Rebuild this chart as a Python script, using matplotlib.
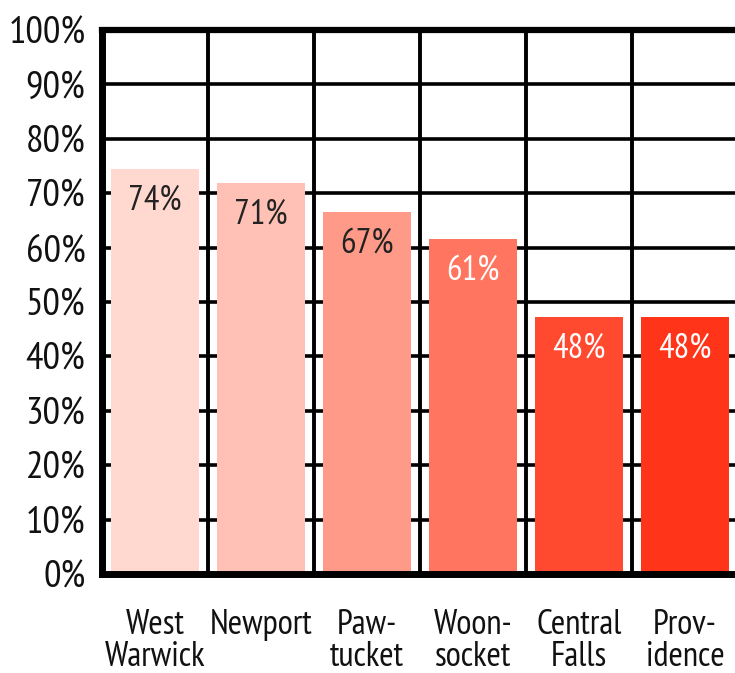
import matplotlib
matplotlib.use("Agg")
import matplotlib.pyplot as plt
from matplotlib.ticker import FixedLocator

categories = ["West\nWarwick", "Newport", "Paw-\ntucket", "Woon-\nsocket", "Central\nFalls", "Prov-\nidence"]
values = [74.4, 71.9, 66.5, 61.6, 47.3, 47.3]
value_labels = ["74%", "71%", "67%", "61%", "48%", "48%"]
colors = ["#FFD8D0", "#FFC0B5", "#FF9A88", "#FF7560", "#FF4A30", "#FF3418"]
label_colors = ["#222222", "#222222", "#222222", "white", "white", "white"]
ytick_values = list(range(0, 101, 10))
ytick_labels = [f"{v}%" for v in ytick_values]

FONT = ["PT Sans Narrow", "DejaVu Sans"]
plt.rcParams['font.family'] = FONT

W, H = 735, 673
fig = plt.figure(figsize=(W / 100, H / 100), dpi=100)
left, right = 102 / W, 1.0
bottom, top = (H - 574) / H, (H - 30) / H
ax = fig.add_axes([left, bottom, right - left, top - bottom])

x = list(range(len(categories)))
ax.bar(x, values, width=0.83, color=colors, zorder=3)

ax.set_xlim(-0.5, 5.47)
ax.set_ylim(0, 100)

# horizontal grid
for v in ytick_values[1:-1]:
    ax.axhline(v, color="black", lw=2.6, zorder=1)
ax.axhline(100, color="black", lw=4.5, zorder=4, clip_on=False)
# vertical separators
for b in [0.5, 1.5, 2.5, 3.5, 4.5]:
    ax.axvline(b, color="black", lw=2.8, zorder=1)

for s in ["top", "right"]:
    ax.spines[s].set_visible(False)
for s in ["left", "bottom"]:
    ax.spines[s].set_linewidth(5)
    ax.spines[s].set_zorder(5)

ax.yaxis.set_major_locator(FixedLocator(ytick_values))
ax.set_yticklabels(ytick_labels, fontsize=28, color="#111111")
ax.set_xticks(x)
ax.set_xticklabels(categories, fontsize=25, color="#111111", linespacing=1.03)
ax.tick_params(axis="both", length=0)
ax.tick_params(axis="y", pad=12)
ax.tick_params(axis="x", pad=25)

for xi, v, lab, c in zip(x, values, value_labels, label_colors):
    ax.text(xi, v - 5.8, lab, ha="center", va="center", fontsize=25, color=c, zorder=6)

fig.savefig("out.png", dpi=100)
